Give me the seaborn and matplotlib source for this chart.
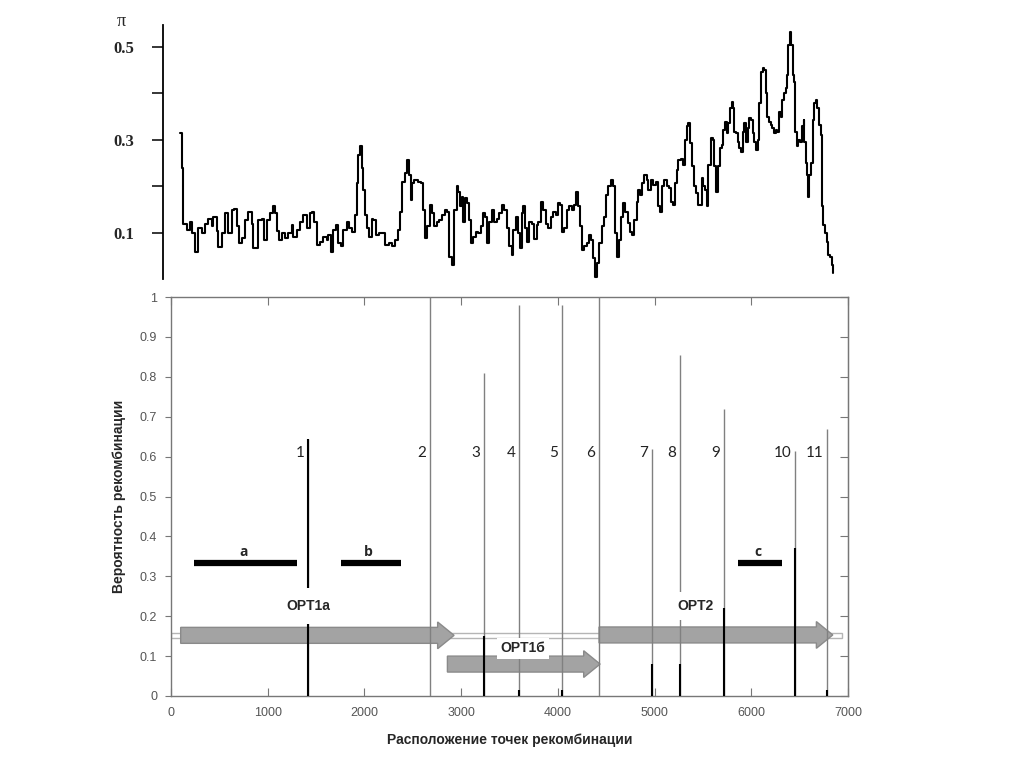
import numpy as np
import matplotlib.pyplot as plt
import pandas as pd
import seaborn as sns
from matplotlib.patches import Rectangle

# nucleotide diversity pi along the alignment (sliding window)
win_pos = [93, 110, 127, 162, 196, 221, 248, 283, 317, 352, 386, 421, 438, 472, 490, 524, 558, 593,
           627, 655, 679, 703, 731, 765, 800, 834, 851, 886, 903, 944, 965, 990, 1024, 1051, 1075,
           1093, 1117, 1145,
           1179, 1213, 1248, 1265, 1300, 1334, 1368, 1403, 1437, 1455, 1482, 1507, 1541, 1575, 1610,
           1627, 1655, 1679, 1703, 1731, 1758, 1782, 1817, 1841, 1868, 1903, 1920, 1937, 1954, 1972,
           1989, 2006, 2024, 2048, 2075, 2093, 2117, 2151, 2186, 2213, 2255, 2289,
           2316, 2344, 2368, 2392, 2420, 2437, 2461, 2482, 2496, 2516, 2551, 2585, 2609, 2627, 2651,
           2678, 2702, 2723, 2748, 2771, 2799, 2834, 2858, 2878, 2903, 2930, 2954, 2971, 2989, 3006,
           3023, 3040, 3058, 3082, 3102, 3126, 3151, 3178, 3206, 3230, 3247, 3265, 3289, 3316, 3344,
           3368, 3392, 3420, 3447,
           3471, 3495, 3523, 3540, 3565, 3585, 3609, 3627, 3644, 3661, 3685, 3702, 3730, 3757, 3782,
           3799, 3826, 3850, 3875, 3902, 3926, 3954, 3978, 3999, 4023, 4047, 4068, 4092, 4116, 4144,
           4168, 4188, 4206, 4230, 4254, 4275, 4299, 4323, 4344, 4368, 4385, 4402, 4426, 4454, 4478,
           4499, 4523, 4550, 4575, 4592,
           4609, 4633, 4654, 4678, 4695, 4723, 4747, 4771, 4792, 4816, 4833, 4850, 4868, 4895, 4919,
           4936, 4964, 4988, 5012, 5033, 5057, 5074, 5102, 5126, 5150, 5171, 5195, 5212, 5230, 5247,
           5274, 5298, 5315, 5333, 5350, 5367, 5385, 5408, 5429, 5447, 5470, 5488, 5505, 5522, 5540,
           5557, 5581, 5602, 5619, 5633, 5654, 5677, 5695, 5712,
           5729, 5747, 5764, 5781, 5798, 5815, 5826, 5843, 5860, 5877, 5894, 5912, 5929, 5946, 5964,
           5981, 5998, 6015, 6032, 6050, 6067, 6084, 6101, 6119, 6136, 6150, 6167, 6184, 6201, 6219,
           6236, 6253, 6270, 6288, 6305, 6322, 6339, 6357, 6374, 6384, 6401, 6412, 6429, 6443, 6453,
           6470, 6488, 6505, 6522, 6540, 6550, 6564, 6574, 6585, 6598, 6616, 6633, 6650, 6667, 6684,
           6701, 6719, 6729, 6746, 6763, 6781, 6798, 6815, 6832, 6849]
win_pi = [0.315, 0.24, 0.12, 0.107, 0.124, 0.10, 0.06, 0.11, 0.10, 0.12, 0.13, 0.115, 0.135, 0.105,
          0.07, 0.10, 0.143, 0.10, 0.15, 0.152, 0.115, 0.078, 0.09, 0.128, 0.145, 0.12, 0.068, 0.068,
          0.128, 0.13, 0.085, 0.128, 0.143, 0.158, 0.143, 0.105, 0.085, 0.10,
          0.089, 0.10, 0.117, 0.092, 0.107, 0.124, 0.139, 0.11, 0.143, 0.146, 0.124, 0.074, 0.081,
          0.092, 0.085, 0.095, 0.06, 0.107, 0.117, 0.078, 0.071, 0.107, 0.124, 0.11, 0.102, 0.139,
          0.207, 0.268, 0.286, 0.239, 0.192, 0.139, 0.11, 0.092, 0.131, 0.128, 0.095, 0.10, 0.10,
          0.074, 0.078, 0.071,
          0.085, 0.107, 0.146, 0.21, 0.228, 0.257, 0.225, 0.171, 0.207, 0.214, 0.21, 0.207, 0.149,
          0.089, 0.114, 0.16, 0.143, 0.114, 0.124, 0.128, 0.139, 0.149, 0.146, 0.049, 0.031, 0.149,
          0.20, 0.189, 0.157, 0.178, 0.124, 0.175, 0.164, 0.128, 0.078, 0.092, 0.103, 0.10, 0.114,
          0.143, 0.135, 0.078, 0.124, 0.149, 0.124, 0.131, 0.143, 0.16, 0.149,
          0.11, 0.071, 0.053, 0.107, 0.135, 0.10, 0.068, 0.142, 0.157, 0.11, 0.081, 0.124, 0.12,
          0.088, 0.117, 0.124, 0.167, 0.149, 0.12, 0.11, 0.135, 0.146, 0.139, 0.164, 0.16, 0.103,
          0.11, 0.149, 0.157, 0.149, 0.16, 0.189, 0.157, 0.114, 0.063, 0.071, 0.078, 0.096, 0.085,
          0.046, 0.006, 0.035, 0.078, 0.114, 0.135, 0.182, 0.20, 0.214, 0.20, 0.10,
          0.049, 0.085, 0.135, 0.164, 0.146, 0.121, 0.103, 0.096, 0.128, 0.167, 0.192, 0.182, 0.207,
          0.225, 0.214, 0.192, 0.214, 0.203, 0.21, 0.157, 0.146, 0.20, 0.214, 0.20, 0.196, 0.167,
          0.16, 0.207, 0.235, 0.257, 0.26, 0.246, 0.30, 0.329, 0.336, 0.293, 0.243, 0.20, 0.185,
          0.16, 0.16, 0.218, 0.20, 0.192, 0.157, 0.246, 0.304, 0.30, 0.243, 0.189, 0.243, 0.282,
          0.289, 0.321,
          0.339, 0.314, 0.336, 0.368, 0.382, 0.368, 0.318, 0.314, 0.296, 0.282, 0.275, 0.318, 0.336,
          0.296, 0.325, 0.347, 0.343, 0.314, 0.296, 0.278, 0.30, 0.379, 0.447, 0.454, 0.45, 0.40,
          0.35, 0.339, 0.332, 0.325, 0.314, 0.321, 0.318, 0.361, 0.35, 0.386, 0.40, 0.411, 0.44,
          0.504, 0.533, 0.504, 0.44, 0.425, 0.318, 0.286, 0.30, 0.296, 0.329, 0.343, 0.296, 0.25,
          0.225, 0.178, 0.225, 0.25, 0.343, 0.379, 0.386, 0.368, 0.332, 0.311, 0.157, 0.117, 0.099,
          0.081, 0.053, 0.049, 0.031, 0.013]

# recombination breakpoints
rec_names = ['1', '2', '3', '4', '5', '6', '7', '8', '9', '10', '11']
rec_pos = [1417, 2678, 3237, 3599, 4043, 4426, 4974, 5264, 5719, 6453, 6784]
rec_prob = [0.645, 1.0, 0.81, 0.98, 0.98, 1.0, 0.62, 0.855, 0.72, 0.614, 0.67]
rec_prob2 = [0.645, 0.0, 0.15, 0.015, 0.015, 0.0, 0.08, 0.08, 0.22, 0.37, 0.015]

# regions a, b, c
reg_names = ['a', 'b', 'c']
reg_start = [238, 1755, 5860]
reg_end = [1303, 2375, 6322]

# open reading frames
orf_names = ['OPT1a', 'OPT1б', 'OPT2']
orf_start = [100, 2858, 4426]
orf_end = [2927, 4437, 6843]

df_pi = pd.DataFrame({'pos': win_pos, 'pi': win_pi})

sns.set_style('white')
plt.rcParams['font.family'] = ['Liberation Sans', 'DejaVu Sans']

fig = plt.figure(figsize=(10.24, 7.67), dpi=100)
W, H = 1024, 767

# ---- top panel: pi
ax1 = fig.add_axes([163 / W, 1 - 279.5 / H, (848 - 163) / W, 254.5 / H])
sns.lineplot(data=df_pi, x='pos', y='pi', estimator=None, drawstyle='steps-post',
             color='black', lw=1.5, ax=ax1)
ax1.set_xlim(-83, 7000)
ax1.set_ylim(0, 0.547)
for s in ['top', 'right', 'bottom']:
    ax1.spines[s].set_visible(False)
ax1.spines['left'].set_color('black')
ax1.spines['left'].set_linewidth(1.3)
ax1.set_xticks([])
ax1.set_yticks([0.1, 0.2, 0.3, 0.4, 0.5])
ax1.set_yticklabels(['0.1', '', '0.3', '', '0.5'], family='Liberation Serif',
                    fontweight='bold', fontsize=12)
ax1.tick_params(axis='y', direction='out', length=8, width=1.3, pad=13, left=True)
ax1.set_xlabel('')
ax1.set_ylabel('')
fig.text(121 / W, 1 - 21 / H, 'π', family='Liberation Serif', fontsize=13,
         ha='center', va='center')

# ---- bottom panel: recombination probabilities
ax2 = fig.add_axes([171 / W, 1 - 696 / H, 677 / W, 399 / H])
ax2.set_xlim(0, 7000)
ax2.set_ylim(0, 1)

ax2.add_patch(Rectangle((0, 0.145), 6940, 0.013, fc='white', ec='#b5b5b5', lw=1, zorder=1))
for nm, s, e, yc in zip(orf_names, orf_start, orf_end, [0.152, 0.080, 0.153]):
    ax2.arrow(s, yc, e - s, 0, width=0.04, head_width=0.067, head_length=170,
              length_includes_head=True, fc='#a3a3a3', ec='#8a8a8a', lw=1, zorder=2)

ax2.vlines(rec_pos, 0, rec_prob, color='#808080', lw=1.0, zorder=3)
ax2.vlines(rec_pos, 0, rec_prob2, color='black', lw=1.5, zorder=3)
for nm, x in zip(rec_names, rec_pos):
    ax2.text(x - 40, 0.61, nm, ha='right', va='center', fontsize=11,
             family='Lato', color='#222222')

ax2.hlines([0.334] * 3, reg_start, reg_end, color='black', lw=4.5, zorder=3)
for nm, s, e in zip(reg_names, reg_start, reg_end):
    ax2.text((s + e) / 2 - 20, 0.362, nm, ha='center', va='center', fontsize=10,
             fontweight='bold', family='Open Sans')

ax2.text(1417, 0.226, 'OPT1a', ha='center', va='center', fontsize=10,
         fontweight='bold', bbox=dict(boxstyle='square,pad=0.8', fc='white', ec='none'), zorder=4)
ax2.text(3637, 0.120, 'OPT1б', ha='center', va='center', fontsize=10,
         fontweight='bold', bbox=dict(boxstyle='square,pad=0.25', fc='white', ec='none'), zorder=4)
ax2.text(5419, 0.226, 'OPT2', ha='center', va='center', fontsize=10,
         fontweight='bold', bbox=dict(boxstyle='square,pad=0.5', fc='white', ec='none'), zorder=4)

yt = np.round(np.arange(0, 1.01, 0.1), 1)
ax2.set_yticks(yt)
ax2.set_yticklabels([f'{v:g}' for v in yt])
ax2.set_xticks(range(0, 7001, 1000))
for s in ax2.spines.values():
    s.set_color('#777777')
    s.set_linewidth(1.0)
ax2.tick_params(axis='x', direction='in', length=6, top=True, bottom=True, pad=8,
                labelsize=9, labelcolor='#555555', color='#777777')
ax2.tick_params(axis='y', direction='out', length=4, left=True, pad=6,
                labelsize=9, labelcolor='#555555', color='#777777')
sec = ax2.secondary_yaxis('right')
sec.set_yticks(yt)
sec.tick_params(direction='in', length=6, labelright=False, color='#777777')
sec.spines['right'].set_color('#777777')

ax2.set_xlabel('Расположение точек рекомбинации', fontsize=10, fontweight='bold', labelpad=10)
ax2.set_ylabel('Вероятность рекомбинации', fontsize=10, fontweight='bold', labelpad=10)

fig.savefig('out.png', dpi=100)
